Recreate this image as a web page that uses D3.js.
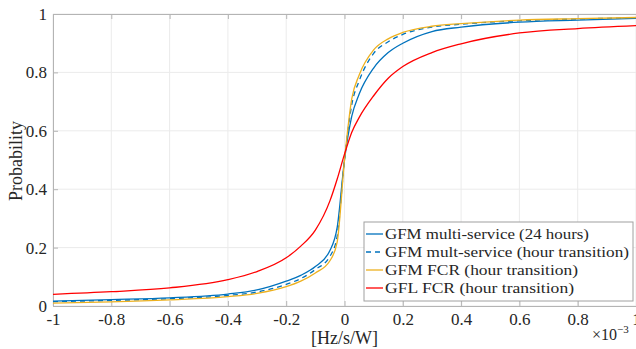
<!DOCTYPE html>
<html>
<head>
<meta charset="utf-8">
<script src="https://cdn.jsdelivr.net/npm/d3@7"></script>
<style>
  body { margin: 0; background: #fff; }
</style>
</head>
<body>
<svg id="chart"></svg>
<script>
// x values in units of 1e-3 Hz/s/W
const xs = [-1, -0.8, -0.6, -0.4, -0.3, -0.2, -0.15, -0.1, -0.05, -0.025, 0, 0.025, 0.05, 0.1, 0.15, 0.2, 0.3, 0.4, 0.6, 0.8, 1];

const gfmMulti24 = [0.017, 0.022, 0.028, 0.041, 0.055, 0.085, 0.105, 0.135, 0.19, 0.27, 0.50, 0.65, 0.725, 0.815, 0.868, 0.9, 0.94, 0.955, 0.972, 0.979, 0.985];
const gfmMultiHour = [0.015, 0.019, 0.025, 0.036, 0.048, 0.074, 0.094, 0.125, 0.17, 0.24, 0.50, 0.69, 0.77, 0.865, 0.905, 0.93, 0.955, 0.965, 0.977, 0.983, 0.987];
const gfmFcr = [0.010, 0.014, 0.021, 0.032, 0.043, 0.066, 0.085, 0.113, 0.155, 0.22, 0.50, 0.71, 0.79, 0.877, 0.915, 0.937, 0.958, 0.967, 0.979, 0.984, 0.988];
const gflFcr = [0.040, 0.049, 0.062, 0.090, 0.118, 0.165, 0.205, 0.26, 0.36, 0.435, 0.52, 0.595, 0.645, 0.72, 0.78, 0.82, 0.868, 0.898, 0.935, 0.950, 0.960];

const xTicks = [-1, -0.8, -0.6, -0.4, -0.2, 0, 0.2, 0.4, 0.6, 0.8, 1];
const yTicks = [0, 0.2, 0.4, 0.6, 0.8, 1];

const series = [
  { name: "GFM multi-service (24 hours)", values: gfmMulti24, color: "#0072BD", dash: null },
  { name: "GFM mult-service (hour transition)", values: gfmMultiHour, color: "#0072BD", dash: "5,4" },
  { name: "GFM FCR (hour transition)", values: gfmFcr, color: "#EDB120", dash: null },
  { name: "GFL FCR (hour transition)", values: gflFcr, color: "#FF0000", dash: null }
];

const FONT = "'Liberation Serif', 'Times New Roman', Times, 'DejaVu Serif', serif";

const W = 636, H = 349;
const margin = { top: 14, right: 0, bottom: 43, left: 53 };
const width = W - margin.left - margin.right;
const height = H - margin.top - margin.bottom;

const svg = d3.select("#chart").attr("width", W).attr("height", H);
const g = svg.append("g").attr("transform", "translate(" + margin.left + "," + margin.top + ")");

const x = d3.scaleLinear().domain([-1, 1]).range([0, width]);
const y = d3.scaleLinear().domain([0, 1]).range([height, 0]);

// grid
g.append("g").selectAll("line").data(xTicks).join("line")
  .attr("x1", d => x(d)).attr("x2", d => x(d)).attr("y1", 0).attr("y2", height)
  .attr("stroke", "#ebebeb").attr("stroke-width", 1);
g.append("g").selectAll("line").data(yTicks).join("line")
  .attr("x1", 0).attr("x2", width).attr("y1", d => y(d)).attr("y2", d => y(d))
  .attr("stroke", "#ebebeb").attr("stroke-width", 1);

// axes
const xAxis = g.append("g").attr("transform", "translate(0," + height + ")")
  .call(d3.axisBottom(x).tickValues(xTicks).tickSize(-5).tickPadding(7).tickFormat(d => d));
const yAxis = g.append("g")
  .call(d3.axisLeft(y).tickValues(yTicks).tickSize(-5).tickPadding(6).tickFormat(d => d));
g.append("g")
  .call(d3.axisTop(x).tickValues(xTicks).tickSize(-5).tickFormat(""));
[xAxis, yAxis].forEach(a => {
  a.attr("font-family", null).attr("font-size", null);
  a.selectAll("text").style("font-family", FONT).style("font-size", "17px").attr("fill", "#262626");
});
g.selectAll(".domain").attr("stroke", "#b4b4b4");
g.selectAll(".tick line").attr("stroke", "#b4b4b4");

// curves
const line = d3.line()
  .x((d, i) => x(xs[i]))
  .y(d => y(d))
  .curve(d3.curveMonotoneX);

const plot = g.append("g");
series.forEach(s => {
  plot.append("path")
    .datum(s.values)
    .attr("d", line)
    .attr("fill", "none")
    .attr("stroke", s.color)
    .attr("stroke-width", 1.3)
    .attr("stroke-dasharray", s.dash);
});

// labels
svg.append("text")
  .attr("x", margin.left + x(0)).attr("y", 344)
  .attr("text-anchor", "middle").style("font-family", FONT).style("font-size", "18px").attr("fill", "#262626")
  .text("[Hz/s/W]");
svg.append("text")
  .attr("transform", "translate(22," + (margin.top + 147) + ") rotate(-90)")
  .attr("text-anchor", "middle").style("font-family", FONT).style("font-size", "18px").attr("fill", "#262626")
  .text("Probability");
const exp = svg.append("text").attr("x", 592).attr("y", 340)
  .style("font-family", FONT).style("font-size", "16px").attr("fill", "#262626");
exp.append("tspan").text("×10");
exp.append("tspan").attr("dy", -7).style("font-size", "11px").text("−3");

// legend
const lg = svg.append("g").attr("transform", "translate(364,222)");
lg.append("rect").attr("width", 269).attr("height", 79)
  .attr("fill", "#fff").attr("stroke", "#a0a0a0").attr("stroke-width", 1);
series.forEach((s, i) => {
  const yy = 12 + i * 18;
  lg.append("line").attr("x1", 2).attr("x2", 19).attr("y1", yy).attr("y2", yy)
    .attr("stroke", s.color).attr("stroke-width", 1.3).attr("stroke-dasharray", s.dash);
  lg.append("text").attr("x", 21).attr("y", yy + 5)
    .style("font-family", FONT).style("font-size", "15px").attr("fill", "#262626")
    .attr("textLength", [204, 244, 193, 189][i]).attr("lengthAdjust", "spacingAndGlyphs")
    .text(s.name);
});
</script>
</body>
</html>
